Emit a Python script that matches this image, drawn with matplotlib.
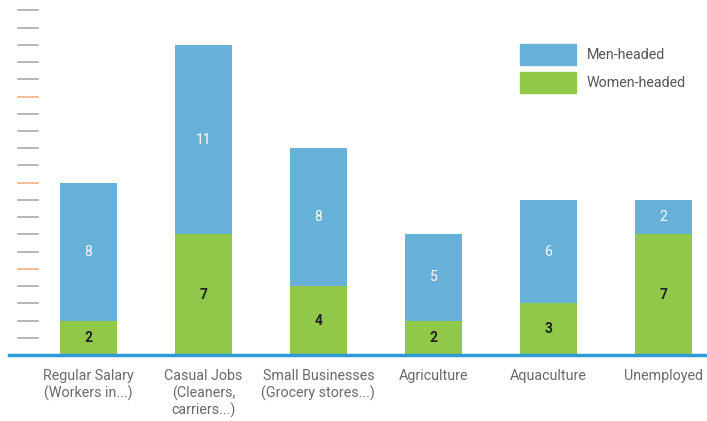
import numpy as np
import matplotlib
matplotlib.use('Agg')
import matplotlib.pyplot as plt
from matplotlib.patches import Patch

plt.rcParams['font.family'] = ['Roboto', 'DejaVu Sans']

categories = [
    'Regular Salary\n(Workers in...)',
    'Casual Jobs\n(Cleaners,\ncarriers...)',
    'Small Businesses\n(Grocery stores...)',
    'Agriculture',
    'Aquaculture',
    'Unemployed',
]
women_headed = [2, 7, 4, 2, 3, 7]
men_headed = [8, 11, 8, 5, 6, 2]
tick_values = list(range(1, 21))
accent_ticks = [5, 10, 15]

BlueColor = '#67b0d8'
GreenColor = '#92c84a'
AxisColor = '#2e9bd6'

fig = plt.figure(figsize=(7.07, 4.21), dpi=100)
ax = fig.add_axes([9 / 707, 66 / 421, 698 / 707, 355 / 421])

x = np.arange(len(categories))
ax.bar(x, women_headed, width=0.5, color=GreenColor)
ax.bar(x, men_headed, width=0.5, bottom=women_headed, color=BlueColor)

for xi, w, m in zip(x, women_headed, men_headed):
    ax.text(xi, w / 2, str(w), ha='center', va='center', fontsize=10,
            fontweight='bold', color='#222222')
    ax.text(xi, w + m / 2, str(m), ha='center', va='center', fontsize=10,
            color='white')

# short dashes on the left standing in for the value axis
trans = ax.get_yaxis_transform()
for v in tick_values:
    c = '#f4b183' if v in accent_ticks else '#aaaaaa'
    ax.plot([0.0135, 0.041], [v, v], color=c, linewidth=1.2, transform=trans,
            clip_on=False)

ax.set_xlim(-0.69, 5.38)
ax.set_ylim(0, 20.6)
ax.set_xticks(x)
ax.set_xticklabels(categories, fontsize=10.3, color='#6a6a6a', linespacing=1.2)
ax.tick_params(axis='x', length=0, pad=10)
ax.set_yticks([])
for s in ['top', 'right', 'left']:
    ax.spines[s].set_visible(False)
ax.spines['bottom'].set_color(AxisColor)
ax.spines['bottom'].set_linewidth(2.5)

handles = [Patch(color=BlueColor), Patch(color=GreenColor)]
ax.legend(handles, ['Men-headed', 'Women-headed'], loc='upper left',
          bbox_to_anchor=(511 / 698, 1 - 44 / 355), frameon=False,
          fontsize=10.3, handlelength=3.9, handleheight=1.85, handletextpad=0.75,
          labelspacing=0.5, labelcolor='#555555', borderaxespad=0,
          borderpad=0)

plt.savefig('out.png', dpi=100)
